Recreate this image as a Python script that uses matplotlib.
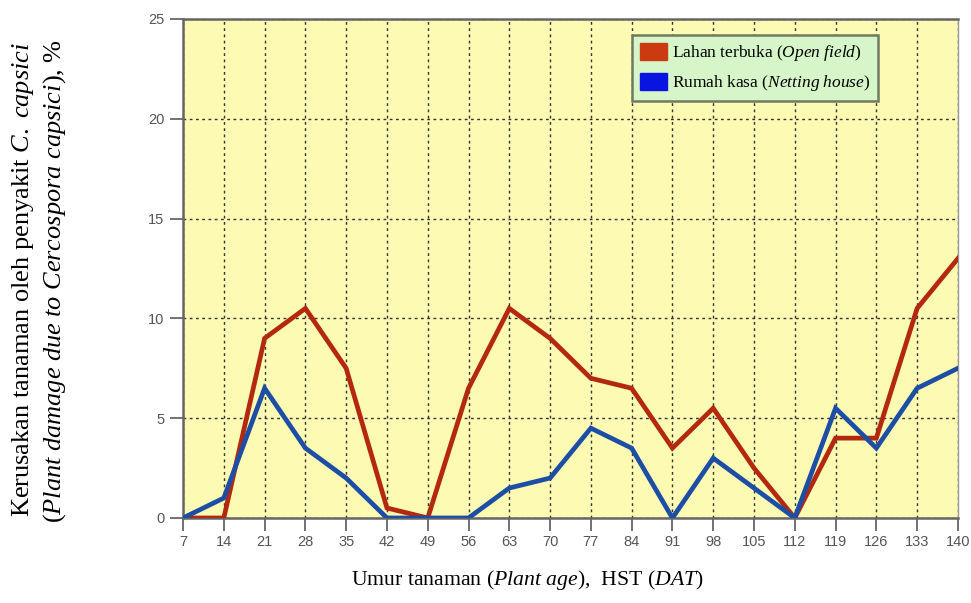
import matplotlib
matplotlib.use("Agg")
import matplotlib.pyplot as plt
from matplotlib.patches import Patch

days = [7, 14, 21, 28, 35, 42, 49, 56, 63, 70, 77, 84, 91, 98, 105, 112, 119, 126, 133, 140]
open_field = [0, 0, 9, 10.5, 7.5, 0.5, 0, 6.5, 10.5, 9, 7, 6.5, 3.5, 5.5, 2.5, 0, 4, 4, 10.5, 13]
netting_house = [0, 1, 6.5, 3.5, 2, 0, 0, 0, 1.5, 2, 4.5, 3.5, 0, 3, 1.5, 0, 5.5, 3.5, 6.5, 7.5]
y_ticks = [0, 5, 10, 15, 20, 25]

plt.rcParams['mathtext.fontset'] = 'custom'
plt.rcParams['mathtext.rm'] = 'Liberation Serif'
plt.rcParams['mathtext.it'] = 'Liberation Serif:italic'

fig = plt.figure(figsize=(9.71, 6.03), dpi=100)
ax = fig.add_axes([0.1885, 0.141, 0.798, 0.8275])
ax.set_facecolor('#fdfab4')

ax.plot(days, open_field, color='#b3280f', lw=3.4, solid_joinstyle='miter', zorder=3)
ax.plot(days, netting_house, color='#1d4ea6', lw=3.4, solid_joinstyle='miter', zorder=3)

ax.set_xlim(7, 140)
ax.set_ylim(0, 25)
ax.set_xticks(days)
ax.set_yticks(y_ticks)
ax.grid(True, color='#333333', linestyle=(0, (2, 2.5)), lw=1.0, zorder=1)
ax.tick_params(axis='both', colors='#666666', labelcolor='#555555', labelsize=10.5,
               length=9.5, width=1.3)
ax.tick_params(axis='x', pad=3)
ax.tick_params(axis='y', pad=4)
for lab in ax.get_xticklabels() + ax.get_yticklabels():
    lab.set_family('Liberation Sans')
for s in ['left', 'bottom', 'top']:
    ax.spines[s].set_color('#666666')
    ax.spines[s].set_linewidth(1.8)
ax.spines['right'].set_color('#999999')
ax.spines['right'].set_linewidth(1.0)

handles = [Patch(facecolor='#cc3a12', edgecolor='#cc3a12'),
           Patch(facecolor='#0a14e0', edgecolor='#0a14e0')]
labels = [r'Lahan terbuka ($\it{Open\ field}$)', r'Rumah kasa ($\it{Netting\ house}$)']
leg = ax.legend(handles, labels, loc='upper right', bbox_to_anchor=(0.897, 0.968),
                borderaxespad=0,
                prop={'family': 'Liberation Serif', 'size': 12.5},
                fancybox=False, framealpha=1, facecolor='#d6f5c9', edgecolor='#707a60',
                handlelength=1.55, handleheight=1.15, borderpad=0.45, labelspacing=0.55,
                handletextpad=0.3)
leg.get_frame().set_linewidth(1.8)

fig.text(0.543, 0.018, r'Umur tanaman ($\it{Plant\ age}$),  HST ($\it{DAT}$)',
         ha='center', va='bottom', family='Liberation Serif', fontsize=15.7)
fig.text(0.024, 0.5365, r'Kerusakan tanaman oleh penyakit $\it{C.\ capsici}$',
         rotation=90, ha='center', va='center', family='Liberation Serif', fontsize=19)
fig.text(0.056, 0.534, r'($\it{Plant\ damage\ due\ to\ Cercospora\ capsici}$), %',
         rotation=90, ha='center', va='center', family='Liberation Serif', fontsize=19)

fig.savefig('out.png', dpi=100)
